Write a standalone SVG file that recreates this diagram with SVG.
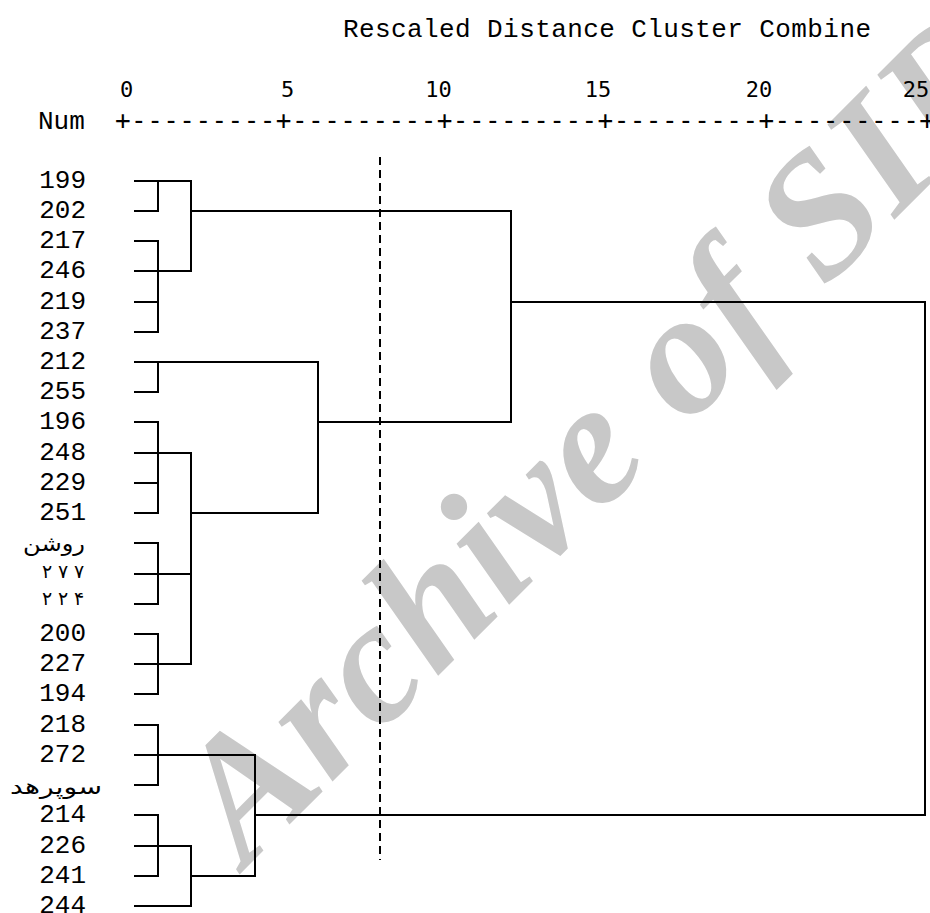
<svg xmlns="http://www.w3.org/2000/svg" width="930" height="913" viewBox="0 0 930 913">
<style>
.bg{fill:#ffffff}
.wm{font-family:"Liberation Serif",serif;font-weight:bold;font-style:italic;font-size:175px;letter-spacing:2px;fill:#c8c8c8}
.mono{font-family:"Liberation Mono","DejaVu Sans Mono",monospace;font-size:26px;fill:#000}
.num{font-family:"DejaVu Sans Mono",monospace;font-size:22px;fill:#000}
.axis{font-family:"DejaVu Sans Mono",monospace;font-size:26px;fill:#000}
.ar{font-family:"DejaVu Sans","Noto Sans",sans-serif;font-size:21px;fill:#000}
.lbl{text-anchor:end}
.ln{fill:none;stroke:#000;stroke-width:2;stroke-linecap:square}
.cut{fill:none;stroke:#000;stroke-width:2;stroke-dasharray:8 5}
</style>
<rect class="bg" x="0" y="0" width="930" height="913"/>
<g id="watermark">
<text class="wm" x="246" y="868" transform="rotate(-45 246 868)">Archive of SID</text>
</g>
<g id="axis">
<text class="mono" x="343" y="37" textLength="528" lengthAdjust="spacing">Rescaled Distance Cluster Combine</text>
<text class="num" x="126.7" y="97" text-anchor="middle">0</text>
<text class="num" x="287.5" y="97" text-anchor="middle">5</text>
<text class="num" x="438.5" y="97" text-anchor="middle">10</text>
<text class="num" x="598" y="97" text-anchor="middle">15</text>
<text class="num" x="759" y="97" text-anchor="middle">20</text>
<text class="num" x="916" y="97" text-anchor="middle">25</text>
<text class="mono" x="38" y="129">Num</text>
<text class="axis" x="115" y="129" textLength="820" lengthAdjust="spacing">+---------+---------+---------+---------+---------+</text>
</g>
<g id="connectors">
<path class="cut" d="M380 157 V860"/>
<path class="ln" d="M135 181 H191 M135 211 H158 M158 181 V211 M135 241 H158 M135 271 H191 M135 302 H158 M135 332 H158 M158 241 V332 M191 181 V271 M191 211 H511"/>
<path class="ln" d="M135 362 H318 M135 392 H158 M158 362 V392 M135 422 H158 M135 453 H191 M135 483 H158 M135 513 H158 M158 422 V513 M135 543 H158 M135 574 H191 M135 604 H158 M158 543 V604 M135 634 H158 M135 664 H191 M135 694 H158 M158 634 V694 M191 453 V664 M191 513 H318 M318 362 V513 M318 422 H511"/>
<path class="ln" d="M511 211 V422 M511 302 H925 M925 302 V815"/>
<path class="ln" d="M135 725 H158 M135 755 H255 M135 785 H158 M158 725 V785 M135 815 H158 M135 846 H191 M135 876 H158 M158 815 V876 M135 906 H191 M191 846 V906 M191 876 H255 M255 755 V876 M255 815 H925"/>
</g>
<g id="n199"><text class="mono lbl" x="86" y="188">199</text></g>
<g id="n202"><text class="mono lbl" x="86" y="218">202</text></g>
<g id="n217"><text class="mono lbl" x="86" y="248">217</text></g>
<g id="n246"><text class="mono lbl" x="86" y="278">246</text></g>
<g id="n219"><text class="mono lbl" x="86" y="309">219</text></g>
<g id="n237"><text class="mono lbl" x="86" y="339">237</text></g>
<g id="n212"><text class="mono lbl" x="86" y="369">212</text></g>
<g id="n255"><text class="mono lbl" x="86" y="399">255</text></g>
<g id="n196"><text class="mono lbl" x="86" y="429">196</text></g>
<g id="n248"><text class="mono lbl" x="86" y="460">248</text></g>
<g id="n229"><text class="mono lbl" x="86" y="490">229</text></g>
<g id="n251"><text class="mono lbl" x="86" y="520">251</text></g>
<g id="n_roshan"><text class="ar" x="23" y="551" textLength="62" lengthAdjust="spacingAndGlyphs">روشن</text></g>
<g id="n_277"><text class="ar" x="42 58 74" y="578" style="font-size:19px">۲۷۷</text></g>
<g id="n_224"><text class="ar" x="42 58 74" y="605" style="font-size:19px">۲۲۴</text></g>
<g id="n200"><text class="mono lbl" x="86" y="641">200</text></g>
<g id="n227"><text class="mono lbl" x="86" y="671">227</text></g>
<g id="n194"><text class="mono lbl" x="86" y="701">194</text></g>
<g id="n218"><text class="mono lbl" x="86" y="732">218</text></g>
<g id="n272"><text class="mono lbl" x="86" y="762">272</text></g>
<g id="n_superhd"><text class="ar" x="10" y="794" textLength="92" lengthAdjust="spacingAndGlyphs">سوپرهد</text></g>
<g id="n214"><text class="mono lbl" x="86" y="822">214</text></g>
<g id="n226"><text class="mono lbl" x="86" y="853">226</text></g>
<g id="n241"><text class="mono lbl" x="86" y="883">241</text></g>
<g id="n244"><text class="mono lbl" x="86" y="913">244</text></g>
</svg>
